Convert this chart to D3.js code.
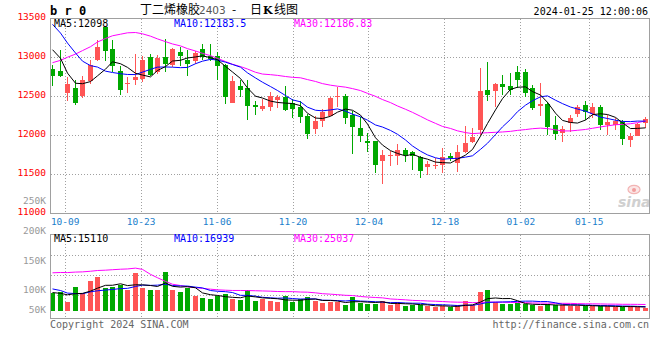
<!DOCTYPE html>
<html><head><meta charset="utf-8">
<script src="https://cdn.jsdelivr.net/npm/d3@7"></script>
<style>body{margin:0;background:#fff}svg{display:block}</style>
</head><body><svg id="c" width="660" height="360"></svg>
<script>
// ---------------- data ----------------
const dates = ["09-27","09-28","10-09","10-10","10-11","10-12","10-13","10-16","10-17","10-18",
 "10-19","10-20","10-23","10-24","10-25","10-26","10-27","10-30","10-31","11-01",
 "11-02","11-03","11-06","11-07","11-08","11-09","11-10","11-13","11-14","11-15",
 "11-16","11-17","11-20","11-21","11-22","11-23","11-24","11-27","11-28","11-29",
 "11-30","12-01","12-04","12-05","12-06","12-07","12-08","12-11","12-12","12-13",
 "12-14","12-15","12-18","12-19","12-20","12-21","12-22","12-25","12-26","12-27",
 "12-28","12-29","01-02","01-03","01-04","01-05","01-08","01-09","01-10","01-11",
 "01-12","01-15","01-16","01-17","01-18","01-19","01-22","01-23","01-24","01-25"];
const open = [12850,12825,12547,12607,12504,12701,12970,13393,13107,12829,
 12654,12709,12718,13000,12816,13000,12902,13068,12974,12953,
 13103,13020,13020,12902,12419,12632,12603,12389,12338,12367,
 12453,12496,12419,12359,12248,12085,12188,12256,12491,12509,
 12269,12098,11927,11927,11675,11735,11743,11812,11786,11718,
 11598,11607,11624,11731,11649,11786,11923,12073,12585,12568,
 12658,12632,12812,12812,12603,12380,12402,12132,12038,12154,
 12273,12385,12273,12367,12132,12132,12167,11944,12000,12160];
const high = [12902,13094,12744,12709,12769,12970,13218,13400,13227,12885,
 12756,13051,13013,13043,13030,13231,13128,13137,13090,13085,
 13171,13174,13068,12923,12761,12709,12709,12444,12474,12560,
 12517,12632,12462,12440,12282,12248,12342,12496,12624,12530,
 12312,12231,12034,11927,11816,11803,11889,11837,11803,11731,
 11667,11709,11846,11773,11880,12128,12094,12863,12940,12667,
 12773,12795,12893,12850,12645,12667,12432,12248,12120,12261,
 12389,12440,12419,12397,12261,12218,12197,12034,12160,12231];
const low = [12632,12752,12444,12385,12480,12662,12949,12957,12808,12521,
 12547,12645,12692,12760,12790,12816,12876,12889,12769,12920,
 12962,12949,12713,12402,12419,12496,12196,12261,12316,12316,
 12355,12312,12226,12154,11949,12013,12111,12248,12367,12145,
 11769,11919,11786,11521,11380,11615,11624,11658,11560,11461,
 11496,11573,11521,11675,11538,11773,11910,12008,12436,12359,
 12513,12517,12603,12496,12325,12256,12004,11940,11919,12051,
 12231,12196,12218,12068,12004,12068,11876,11855,11990,12090];
const close = [12769,12765,12658,12419,12709,12906,13132,13085,12893,12585,
 12671,12752,12974,12774,12996,12923,13107,13021,12923,13060,
 13000,12982,12892,12496,12701,12581,12376,12367,12376,12504,
 12496,12333,12342,12239,12017,12188,12303,12483,12504,12218,
 12111,11991,11910,11624,11752,11752,11812,11752,11735,11547,
 11637,11624,11718,11713,11786,11902,11987,12573,12521,12658,
 12624,12581,12709,12547,12355,12402,12111,12017,12081,12224,
 12364,12304,12364,12137,12176,12180,11956,11995,12150,12209];
const volume = [70500,73200,33500,91200,70500,114300,129700,88600,92400,98900,
 79700,145100,87400,79700,79700,149000,79700,72000,88600,57800,
 50100,45000,57800,64300,46200,41200,79700,39700,46200,37300,
 33500,56600,34700,45000,53900,39700,29600,34700,34700,24300,
 53900,32000,25800,28100,37300,21900,33500,18100,24300,24300,
 18100,15400,18100,15400,21900,37800,24300,71800,82000,34700,
 25800,25800,30120,25800,21900,20400,25800,21900,24300,20400,
 20650,18320,18310,18280,18280,15360,15420,18060,15340,11370];
// sessions before the visible window (needed for the moving averages)
const prevClose = [11865,11458,11219,11359,11406,11332,11735,11843,11985,12131,
 12632,13484,13674,14046,13973,14007,13771,13973,13960,13900,
 13882,13942,13696,13751,13481,13315,13608,13069,12739];
const prevVolume = [38000,42000,35000,48000,40000,45000,50000,38000,44000,47000,50000,
 237000,650000,470000,569000,410000,222000,239000,148000,140000,
 135000,132800,109300,76200,41200,90000,60000,70000,65000];
const priceTicks = [11000,11500,12000,12500,13000,13500];
const volTicks = [250000,200000,150000,100000,50000];
const volTickLabels = ["250K","200K","150K","100K","50K"];
const dateTicks = ["10-09","10-23","11-06","11-20","12-04","12-18","01-02","01-15"];
const maPeriods = [5,10,30];
const maColors = ["#000000","#0000ff","#ff00ff"];

// ---------------- layout ----------------
const L=50.5, R=649.5, T=18.5, B=213.5, VT=234.5, VB=318.5, VBASE=311;
const MONO = "'DejaVu Sans Mono', monospace";
const RED="#ff5555", GREEN="#00a800", GRID="#a0a0a0";

const svg = d3.select("#c");
svg.append("rect").attr("width",660).attr("height",360).attr("fill","#fff");

const x = d3.scaleBand().domain(dates).range([49,649]);
const px = i => Math.floor(x(dates[i]) + x.bandwidth()/2);
const gx = d3.scalePoint().domain(dates).range([50,650]);
const y = d3.scaleLinear().domain([11000,13500]).range([B,T]);
const yv = d3.scaleLinear().domain([0,100000]).range([VBASE, VBASE-100000/3850]);
const volLab = d3.scaleLinear().domain([100000,250000]).range([293.3,204]);

function movingAvg(prev, vals, n){
  const all = prev.concat(vals), off = prev.length;
  return vals.map((v,i)=>d3.mean(all.slice(off+i-n+1, off+i+1)));
}
const fmt = v => String(Math.round(v*100)/100);

const defs = svg.append("defs");
defs.append("clipPath").attr("id","cp").append("rect").attr("x",L).attr("y",T).attr("width",R-L).attr("height",B-T);
defs.append("clipPath").attr("id","cv").append("rect").attr("x",L).attr("y",VT).attr("width",R-L).attr("height",VB-VT);

// ---------------- grid ----------------
const grid = svg.append("g").attr("stroke",GRID).attr("stroke-dasharray","1,2").attr("shape-rendering","crispEdges");
priceTicks.filter(t=>t>11000 && t<13500).forEach(t=>{
  grid.append("line").attr("x1",L).attr("x2",R).attr("y1",y(t)).attr("y2",y(t));
});
[255.5,275.5,295.5].forEach(v=>grid.append("line").attr("x1",L).attr("x2",R).attr("y1",v).attr("y2",v));
dateTicks.forEach(d=>{
  const gxp = Math.floor(gx(d))+0.5;
  grid.append("line").attr("x1",gxp).attr("x2",gxp).attr("y1",T).attr("y2",B);
  grid.append("line").attr("x1",gxp).attr("x2",gxp).attr("y1",VT).attr("y2",VB);
});

// ---------------- watermark ----------------
const wm = svg.append("g").attr("opacity",0.85);
wm.append("ellipse").attr("cx",634).attr("cy",189.5).attr("rx",6).attr("ry",4.2).attr("fill","#fbe2e2").attr("stroke","#f0a8a8").attr("stroke-width",1.2);
wm.append("circle").attr("cx",634).attr("cy",190).attr("r",2).attr("fill","#f08c8c");
wm.append("text").attr("x",618).attr("y",207).attr("font-family","'DejaVu Sans', sans-serif").attr("font-weight","bold").attr("font-style","italic").attr("font-size",14).attr("fill","#c8c8c8").text("sina");

// ---------------- candles ----------------
const rows = dates.map((d,i)=>({i, o:open[i], h:high[i], l:low[i], c:close[i], v:volume[i], up: close[i]>=open[i]}));
const cg = svg.append("g").attr("shape-rendering","crispEdges");
cg.selectAll("line.w").data(rows).join("line")
  .attr("x1",d=>px(d.i)+0.5).attr("x2",d=>px(d.i)+0.5)
  .attr("y1",d=>Math.round(y(d.h))).attr("y2",d=>Math.round(y(d.l)))
  .attr("stroke",d=>d.up?RED:GREEN);
cg.selectAll("rect.b").data(rows).join("rect")
  .attr("x",d=>px(d.i)-2).attr("width",5)
  .attr("y",d=>Math.round(y(Math.max(d.o,d.c))))
  .attr("height",d=>Math.max(1, Math.round(y(Math.min(d.o,d.c)))-Math.round(y(Math.max(d.o,d.c)))))
  .attr("fill",d=>d.up?RED:GREEN);

// volume bars
cg.selectAll("rect.v").data(rows).join("rect")
  .attr("x",d=>px(d.i)-2).attr("width",5)
  .attr("y",d=>Math.round(yv(d.v))).attr("height",d=>VBASE-Math.round(yv(d.v)))
  .attr("fill",d=>d.up?RED:GREEN);

// ---------------- moving averages ----------------
const priceMA = maPeriods.map(n=>movingAvg(prevClose, close, n));
const volMA = maPeriods.map(n=>movingAvg(prevVolume, volume, n));
const lp = d3.line().x((d,i)=>px(i)+0.5).y(d=>y(d));
const lv = d3.line().x((d,i)=>px(i)+0.5).y(d=>yv(d));
const mg = svg.append("g").attr("fill","none").attr("stroke-width",1);
priceMA.slice().reverse().forEach((s,k)=>{
  const j = maPeriods.length-1-k;
  mg.append("path").attr("d",lp(s)).attr("stroke",maColors[j]).attr("clip-path","url(#cp)");
});
volMA.slice().reverse().forEach((s,k)=>{
  const j = maPeriods.length-1-k;
  mg.append("path").attr("d",lv(s)).attr("stroke",maColors[j]).attr("clip-path","url(#cv)");
});

// ---------------- frames ----------------
const fr = svg.append("g").attr("fill","none").attr("stroke",GRID).attr("shape-rendering","crispEdges");
fr.append("rect").attr("x",L).attr("y",T).attr("width",R-L).attr("height",B-T);
fr.append("rect").attr("x",L).attr("y",VT).attr("width",R-L).attr("height",VB-VT);

// ---------------- axis labels ----------------
const tx = svg.append("g").attr("font-family",MONO);
tx.selectAll("text.p").data(priceTicks).join("text")
  .attr("x",46).attr("y",d=>y(d)+1.2).attr("text-anchor","end")
  .attr("font-size",9.5).attr("fill","#ff0000").text(d=>d);
tx.selectAll("text.vv").data(volTicks).join("text")
  .attr("x",46).attr("y",d=>Math.min(volLab(d), VB-5.2)).attr("text-anchor","end")
  .attr("font-size",9.5).attr("fill","#999999").text((d,i)=>volTickLabels[i]);
tx.selectAll("text.d").data(dateTicks).join("text")
  .attr("x",d=>gx(d)).attr("y",225).attr("text-anchor","middle")
  .attr("font-size",9.5).attr("fill","#1a80cc").text(d=>d);

// legends
const legX = [54,174,294];
maPeriods.forEach((n,j)=>{
  tx.append("text").attr("x",legX[j]).attr("y",26.7).attr("font-size",10).attr("fill",maColors[j])
    .text("MA"+n+":"+fmt(priceMA[j][priceMA[j].length-1]));
  tx.append("text").attr("x",legX[j]).attr("y",241.8).attr("font-size",10).attr("fill",maColors[j])
    .text("MA"+n+":"+fmt(volMA[j][volMA[j].length-1]));
});

// header
tx.append("text").attr("x",50).attr("y",15.3).attr("font-size",12).attr("font-weight","bold").attr("fill","#000").text("b r 0");
const tt = svg.append("text").attr("y",13.5).attr("font-size",12).attr("fill","#000")
  .attr("font-family","'Noto Sans CJK SC', sans-serif");
tt.append("tspan").attr("x",140).text("丁二烯橡胶");
tt.append("tspan").attr("x",199).attr("fill","#555").attr("font-family","'DejaVu Sans', sans-serif").attr("font-size",10.5).text("2403");
tt.append("tspan").attr("x",232).text("-");
tt.append("tspan").attr("x",250).text("日");
tt.append("tspan").attr("x",263).attr("font-weight","bold").attr("font-family","'DejaVu Serif', serif").attr("font-size",11).text("K");
tt.append("tspan").attr("x",274).text("线图");
tx.append("text").attr("x",648).attr("y",15).attr("text-anchor","end").attr("font-size",10).attr("fill","#000").text("2024-01-25 12:00:06");

// footer
tx.append("text").attr("x",50).attr("y",327.5).attr("font-size",10).attr("fill","#666").text("Copyright 2024 SINA.COM");
tx.append("text").attr("x",649).attr("y",327.5).attr("text-anchor","end").attr("font-size",10).attr("fill","#666").text("http://finance.sina.com.cn");
</script></body></html>
